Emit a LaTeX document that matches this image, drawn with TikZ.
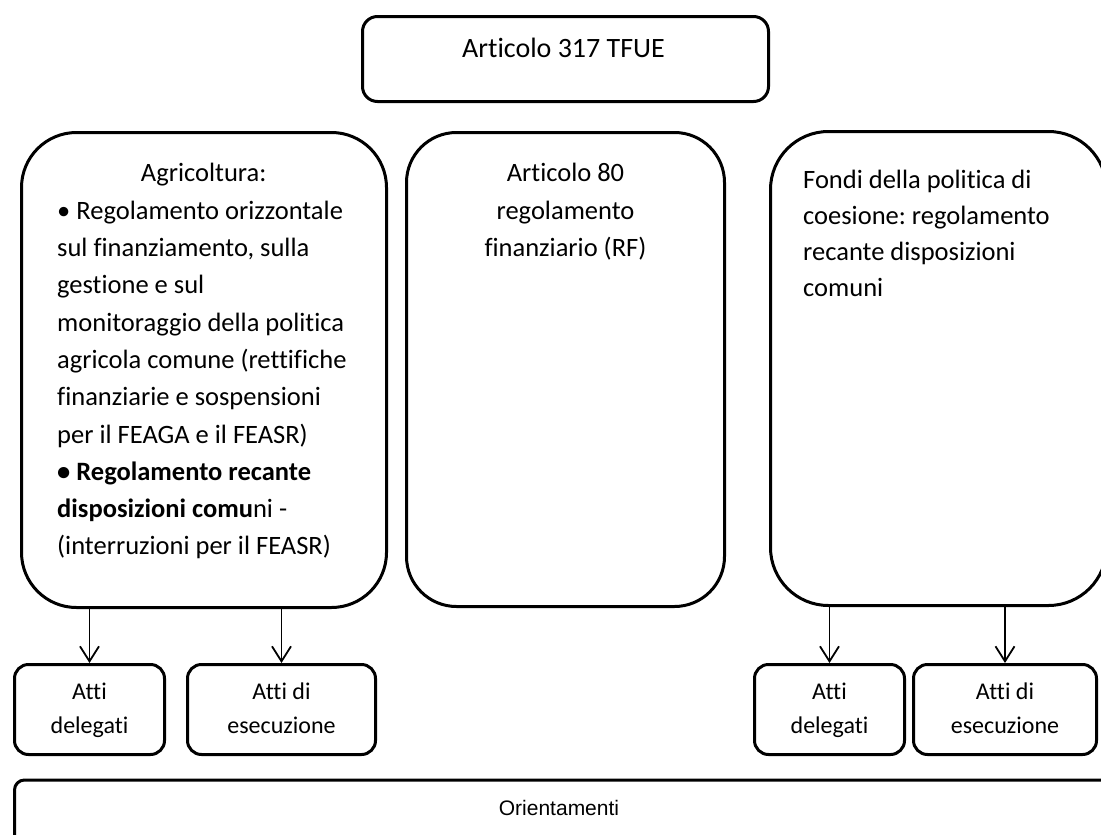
\documentclass[tikz,border=0pt]{standalone}
\usepackage{fontspec}
\setmainfont{Carlito}[Ligatures={NoCommon}]
\newfontfamily\orfont{Liberation Sans}
\usetikzlibrary{arrows.meta}
\frenchspacing
\begin{document}
\begin{tikzpicture}[x=1pt,y=-1pt,
  box/.style={draw, line width=3pt, rounded corners=#1, inner sep=0pt},
  box/.default=14pt,
  bigtext/.style={font=\fontsize{26.5}{37.3}\selectfont, inner sep=0pt},
  smalltext/.style={font=\fontsize{24}{34}\selectfont, align=center},
  arr/.style={line width=1.8pt, -{Straight Barb[length=15pt,width=19pt]}}]
\useasboundingbox (0,0) rectangle (1101,835);
% top
\node[box=15pt, minimum width=406pt, minimum height=85pt] (top) at (565.5,59) {};
\node[font=\fontsize{28}{34}\selectfont, anchor=base, inner sep=0pt] (toptxt) at (563.5,57) {Articolo 317 TFUE};
% big boxes
\node[box=55pt, minimum width=365pt, minimum height=475pt] (agri) at (204,370) {};
\node[box=50pt, minimum width=318pt, minimum height=474pt] (rf) at (565.5,369.5) {};
\node[box=58pt, minimum width=336pt, minimum height=474pt] (coes) at (938.5,368.5) {};
\node[bigtext, anchor=north west, align=left] (agritxt) at (57,163.3)
 {\makebox[293pt][c]{Agricoltura:}\\
  • Regolamento orizzontale\\
  sul finanziamento, sulla\\
  gestione e sul\\
  monitoraggio della politica\\
  agricola comune (rettifiche\\
  finanziarie e sospensioni\\
  per il FEAGA e il FEASR)\\
  \textbf{• Regolamento recante}\\
  \textbf{disposizioni comu}ni -\\
  (interruzioni per il FEASR)};
\node[bigtext, anchor=north, align=center] (rftxt) at (565.5,163.3)
 {Articolo 80\\regolamento\\finanziario (RF)};
\node[font=\fontsize{26.5}{36}\selectfont, inner sep=0pt, anchor=north west, align=left] (coestxt) at (803,169.6)
 {Fondi della politica di\\coesione: regolamento\\recante disposizioni\\comuni};
% small boxes
\node[box, smalltext, minimum width=150pt, minimum height=90pt] (del1) at (89.5,709.5) {\strut Atti\\\strut delegati};
\node[box, smalltext, minimum width=188pt, minimum height=90pt] (ese1) at (281.5,709.5) {\strut Atti di\\\strut esecuzione};
\node[box, smalltext, minimum width=150pt, minimum height=90pt] (del2) at (829.5,709.5) {\strut Atti\\\strut delegati};
\node[box, smalltext, minimum width=183pt, minimum height=90pt] (ese2) at (1005,709.5) {\strut Atti di\\\strut esecuzione};
% arrows
\draw[arr] (del1.north |- agri.south) -- (del1.north);
\draw[arr] (ese1.north |- agri.south) -- (ese1.north);
\draw[arr] (del2.north |- coes.south) -- (del2.north);
\draw[arr] (ese2.north |- coes.south) -- (ese2.north);
% bottom
\node[box=10pt, minimum width=1104pt, minimum height=80pt] (orient) at (566.5,820) {};
\node[font=\orfont\fontsize{21}{25}\selectfont, anchor=base, inner sep=0pt] (orienttxt) at (559,815) {Orientamenti};
\end{tikzpicture}
\end{document}
